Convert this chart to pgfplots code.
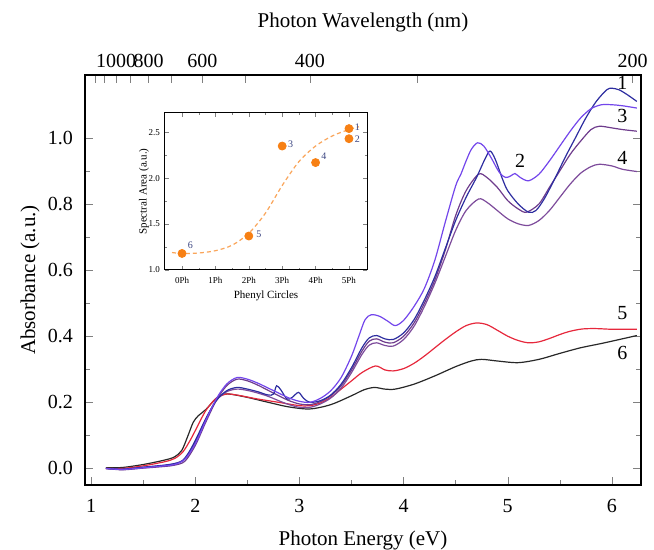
\documentclass[border=0pt]{standalone}
\usepackage{fontspec}
\setmainfont{Liberation Serif}
\usepackage{pgfplots}
\pgfplotsset{compat=1.18}
\definecolor{c1}{RGB}{45,45,160}
\definecolor{c2}{RGB}{115,70,235}
\definecolor{c3}{RGB}{110,60,140}
\definecolor{c4}{RGB}{125,75,155}
\definecolor{c5}{RGB}{230,40,60}
\definecolor{c6}{RGB}{40,40,40}
\definecolor{dot}{RGB}{247,128,20}
\definecolor{fitc}{RGB}{250,165,90}
\definecolor{lab}{RGB}{60,70,130}
\begin{document}
\begin{tikzpicture}
\useasboundingbox (-42.5pt,-32.5pt) rectangle (284.5pt,242.5pt);
% main spectra
\begin{axis}[
  width=278pt, height=205pt, scale only axis,
  xmin=0.94, xmax=6.28, ymin=-0.05, ymax=1.19,
  xtick={1,2,3,4,5,6}, minor x tick num=1, xtick pos=bottom,
  ytick={0,0.2,0.4,0.6,0.8,1.0}, minor y tick num=1, ytick pos=both,
  tick align=inside,
  major tick length=4pt, minor tick length=2.5pt,
  yticklabel style={/pgf/number format/fixed,/pgf/number format/fixed zerofill,/pgf/number format/precision=1, xshift=-2.5pt},
  xticklabel style={yshift=-3.5pt},
  /pgf/number format/assume math mode=true,
  xlabel={Photon Energy (eV)}, ylabel={Absorbance (a.u.)},
  xlabel style={at={(axis description cs:0.5,0)}, anchor=center, yshift=-27.5pt},
  ylabel style={at={(axis description cs:-0.099,0.5)}, anchor=center},
  label style={font=\fontsize{10.5}{12.5}\selectfont},
  tick label style={font=\fontsize{10}{12}\selectfont},
  axis line style={line width=0.8pt},
  every axis plot/.append style={line width=0.6pt, smooth, no marks},
]
\addplot[c6] coordinates {(1.14,0.002)(1.3,0.003)(1.5,0.012)(1.7,0.025)(1.8,0.035)(1.87,0.055)(1.93,0.100)(1.98,0.140)(2.03,0.160)(2.1,0.178)(2.2,0.212)(2.28,0.225)(2.35,0.224)(2.5,0.215)(2.7,0.200)(2.9,0.186)(3.1,0.180)(3.3,0.193)(3.5,0.220)(3.62,0.238)(3.72,0.245)(3.82,0.240)(3.92,0.240)(4.1,0.255)(4.3,0.280)(4.5,0.308)(4.65,0.325)(4.75,0.330)(4.9,0.325)(5.1,0.320)(5.3,0.330)(5.5,0.348)(5.7,0.365)(5.9,0.378)(6.1,0.392)(6.24,0.402)};
\addplot[c5] coordinates {(1.14,0.000)(1.3,0.000)(1.5,0.008)(1.7,0.020)(1.8,0.030)(1.88,0.050)(1.95,0.085)(2.0,0.115)(2.1,0.175)(2.2,0.212)(2.3,0.225)(2.4,0.222)(2.5,0.216)(2.6,0.210)(2.8,0.200)(3.0,0.190)(3.1,0.190)(3.2,0.198)(3.3,0.215)(3.4,0.240)(3.5,0.265)(3.6,0.290)(3.73,0.310)(3.82,0.298)(3.9,0.295)(4.0,0.302)(4.1,0.318)(4.2,0.340)(4.3,0.365)(4.4,0.390)(4.5,0.413)(4.6,0.432)(4.7,0.440)(4.8,0.435)(4.9,0.418)(5.0,0.400)(5.1,0.387)(5.2,0.380)(5.3,0.383)(5.4,0.393)(5.5,0.405)(5.6,0.415)(5.72,0.422)(5.85,0.423)(6.0,0.421)(6.24,0.421)};
\addplot[c4] coordinates {(1.14,0.000)(1.3,-0.003)(1.5,0.003)(1.7,0.009)(1.8,0.014)(1.9,0.030)(2.0,0.080)(2.1,0.150)(2.2,0.205)(2.3,0.232)(2.4,0.240)(2.5,0.236)(2.6,0.228)(2.7,0.218)(2.8,0.205)(2.9,0.193)(3.0,0.185)(3.1,0.185)(3.2,0.195)(3.3,0.213)(3.4,0.243)(3.5,0.290)(3.6,0.345)(3.67,0.373)(3.74,0.380)(3.82,0.372)(3.9,0.370)(4.0,0.390)(4.1,0.430)(4.2,0.490)(4.3,0.560)(4.4,0.640)(4.5,0.720)(4.6,0.780)(4.72,0.815)(4.8,0.805)(4.9,0.780)(5.0,0.755)(5.1,0.740)(5.2,0.735)(5.3,0.750)(5.4,0.780)(5.5,0.820)(5.6,0.860)(5.7,0.893)(5.8,0.913)(5.88,0.920)(6.0,0.915)(6.1,0.905)(6.24,0.898)};
\addplot[c3] coordinates {(1.14,0.000)(1.3,-0.004)(1.5,0.001)(1.7,0.006)(1.8,0.010)(1.9,0.022)(2.0,0.070)(2.1,0.140)(2.2,0.205)(2.3,0.250)(2.4,0.270)(2.5,0.265)(2.6,0.252)(2.7,0.236)(2.8,0.220)(2.9,0.205)(3.0,0.195)(3.1,0.193)(3.2,0.202)(3.3,0.220)(3.4,0.250)(3.5,0.298)(3.6,0.355)(3.67,0.385)(3.74,0.392)(3.82,0.382)(3.9,0.380)(4.0,0.400)(4.1,0.440)(4.2,0.500)(4.3,0.570)(4.4,0.660)(4.5,0.765)(4.6,0.840)(4.72,0.890)(4.8,0.880)(4.9,0.850)(5.0,0.810)(5.1,0.785)(5.18,0.775)(5.3,0.800)(5.4,0.850)(5.5,0.900)(5.6,0.950)(5.7,0.990)(5.8,1.025)(5.88,1.035)(6.0,1.030)(6.1,1.025)(6.24,1.020)};
\addplot[c1] coordinates {(1.14,0.000)(1.3,-0.002)(1.5,0.004)(1.7,0.010)(1.8,0.015)(1.87,0.022)(1.93,0.045)(2.0,0.085)(2.1,0.150)(2.2,0.205)(2.3,0.235)(2.4,0.245)(2.5,0.240)(2.6,0.232)(2.7,0.222)(2.75,0.225)(2.78,0.250)(2.82,0.238)(2.88,0.210)(2.93,0.215)(2.99,0.230)(3.04,0.212)(3.1,0.200)(3.2,0.205)(3.3,0.222)(3.4,0.255)(3.5,0.305)(3.6,0.365)(3.67,0.395)(3.74,0.402)(3.82,0.392)(3.9,0.390)(4.0,0.410)(4.1,0.450)(4.2,0.510)(4.3,0.580)(4.4,0.665)(4.5,0.750)(4.6,0.820)(4.7,0.880)(4.78,0.935)(4.83,0.960)(4.88,0.935)(4.95,0.875)(5.0,0.840)(5.1,0.800)(5.2,0.775)(5.27,0.780)(5.35,0.815)(5.45,0.875)(5.55,0.940)(5.65,1.000)(5.75,1.060)(5.85,1.110)(5.95,1.145)(6.0,1.150)(6.07,1.145)(6.15,1.130)(6.24,1.110)};
\addplot[c2] coordinates {(1.14,0.000)(1.3,-0.003)(1.5,0.002)(1.7,0.008)(1.8,0.012)(1.9,0.028)(2.0,0.075)(2.1,0.145)(2.2,0.210)(2.3,0.255)(2.4,0.275)(2.5,0.270)(2.6,0.258)(2.7,0.243)(2.8,0.228)(2.9,0.213)(3.0,0.203)(3.1,0.200)(3.2,0.212)(3.3,0.235)(3.4,0.275)(3.5,0.340)(3.57,0.400)(3.63,0.450)(3.69,0.465)(3.77,0.460)(3.85,0.445)(3.92,0.432)(4.0,0.448)(4.1,0.490)(4.2,0.545)(4.3,0.630)(4.4,0.745)(4.5,0.855)(4.55,0.890)(4.6,0.930)(4.65,0.965)(4.71,0.985)(4.77,0.975)(4.84,0.940)(4.92,0.895)(4.98,0.880)(5.03,0.885)(5.07,0.892)(5.12,0.880)(5.2,0.870)(5.3,0.890)(5.4,0.930)(5.5,0.975)(5.6,1.020)(5.7,1.060)(5.8,1.088)(5.9,1.100)(6.0,1.100)(6.1,1.097)(6.24,1.090)};
% curve numbers
\node[font=\fontsize{10}{12}\selectfont] at (axis cs:6.10,1.165) {1};
\node[font=\fontsize{10}{12}\selectfont] at (axis cs:5.12,0.930) {2};
\node[font=\fontsize{10}{12}\selectfont] at (axis cs:6.10,1.065) {3};
\node[font=\fontsize{10}{12}\selectfont] at (axis cs:6.10,0.940) {4};
\node[font=\fontsize{10}{12}\selectfont] at (axis cs:6.10,0.470) {5};
\node[font=\fontsize{10}{12}\selectfont] at (axis cs:6.10,0.350) {6};
\end{axis}
% top wavelength axis
\begin{axis}[
  width=278pt, height=205pt, scale only axis,
  xmin=0.94, xmax=6.28, ymin=-0.05, ymax=1.19,
  axis x line*=top, axis y line=none,
  tick align=inside, major tick length=4pt,
  xtick={1.0333,1.1273,1.24,1.3778,1.55,1.7714,2.0667,2.48,3.1,4.1333,6.2},
  xticklabels={,,1000,,800,,600,,400,,200},
  xlabel={Photon Wavelength (nm)},
  xlabel style={at={(axis description cs:0.5,1)}, anchor=center, yshift=26.5pt},
  label style={font=\fontsize{10.5}{12.5}\selectfont},
  tick label style={font=\fontsize{10}{12}\selectfont},
  axis line style={line width=0.8pt},
]
\end{axis}
% inset
\begin{axis}[
  at={(40pt,186pt)}, anchor=north west,
  width=101pt, height=78.5pt, scale only axis,
  xmin=-0.51, xmax=5.54, ymin=1.0, ymax=2.71,
  xtick={0,1,2,3,4,5}, xticklabels={0Ph,1Ph,2Ph,3Ph,4Ph,5Ph},
  ytick={1.0,1.5,2.0,2.5}, minor y tick num=1, minor x tick num=1,
  tick align=inside, major tick length=2pt, minor tick length=1.2pt,
  yticklabel style={/pgf/number format/fixed,/pgf/number format/fixed zerofill,/pgf/number format/precision=1, xshift=1pt},
  /pgf/number format/assume math mode=true,
  xlabel={Phenyl Circles}, ylabel={Spectral Area (a.u.)},
  label style={font=\fontsize{5.5}{6.5}\selectfont},
  tick label style={font=\fontsize{4.5}{5.5}\selectfont},
  xlabel style={yshift=3pt}, ylabel style={yshift=-7pt},
  axis line style={line width=0.5pt},
  axis background/.style={fill=white},
]
\addplot[fitc, dash pattern=on 2pt off 1.5pt, line width=0.6pt, smooth, no marks] coordinates {(-0.3,1.19)(0,1.18)(0.5,1.185)(1,1.21)(1.5,1.27)(2,1.40)(2.5,1.62)(3,1.92)(3.5,2.18)(4,2.35)(4.5,2.46)(5,2.53)(5.3,2.56)};
\addplot[only marks, mark=*, mark size=2pt, dot, mark options={draw=dot, fill=dot}] coordinates {(0,1.18)(2,1.37)(3,2.35)(4,2.17)(5,2.54)(5,2.43)};
\node[lab, font=\fontsize{5}{6}\selectfont] at (axis cs:0.25,1.27) {6};
\node[lab, font=\fontsize{5}{6}\selectfont] at (axis cs:2.3,1.39) {5};
\node[lab, font=\fontsize{5}{6}\selectfont] at (axis cs:3.25,2.37) {3};
\node[lab, font=\fontsize{5}{6}\selectfont] at (axis cs:4.25,2.24) {4};
\node[lab, font=\fontsize{5}{6}\selectfont] at (axis cs:5.25,2.56) {1};
\node[lab, font=\fontsize{5}{6}\selectfont] at (axis cs:5.25,2.43) {2};
\end{axis}
\end{tikzpicture}
\end{document}
